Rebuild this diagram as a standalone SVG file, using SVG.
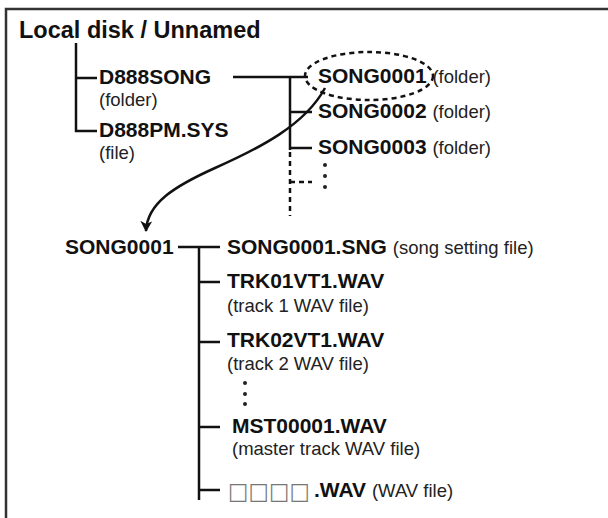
<svg xmlns="http://www.w3.org/2000/svg" width="608" height="518" viewBox="0 0 608 518">
<defs>
<style>
.b{font-family:"Liberation Sans",Arial,sans-serif;font-weight:bold;font-size:21px;fill:#111}
.r{font-family:"Liberation Sans",Arial,sans-serif;font-weight:normal;font-size:18.5px;fill:#222}
.ln{fill:none;stroke:#111;stroke-width:2.5}
.dot{fill:#222}
.sq{font-family:"DejaVu Sans",sans-serif;font-weight:normal;font-size:23px;fill:#777}
</style>
<marker id="ah" viewBox="0 0 12 12" refX="10" refY="6" markerWidth="12" markerHeight="12" markerUnits="userSpaceOnUse" orient="auto">
<path d="M0,0 L11,6 L0,12 L3,6 Z" fill="#111"/>
</marker>
</defs>
<rect width="608" height="518" fill="#fff"/>
<path d="M6,518 V9 H608" fill="none" stroke="#333" stroke-width="2.5"/>
<g id="connectors">
<path class="ln" d="M76,43 V131 H97 M76,78 H97"/>
<path class="ln" d="M233,77 H308 M290,77 V150 M290,112 H312 M290,148 H312"/>
<path class="ln" d="M290,152 V216 M290,182 H312" stroke-dasharray="5,4"/>
<path class="ln" d="M178,247 H220 M199,247 V500 M199,282 H220 M199,342 H220 M199,427 H220 M199,490 H220"/>
<ellipse cx="369" cy="76" rx="64" ry="24" fill="none" stroke="#111" stroke-width="2.5" stroke-dasharray="5,4"/>
<path class="ln" d="M325,88 C305,125 260,148 215,168 C175,186 147,203 146,231" marker-end="url(#ah)"/>
<circle class="dot" cx="325" cy="165" r="2"/>
<circle class="dot" cx="325" cy="176" r="2"/>
<circle class="dot" cx="325" cy="187" r="2"/>
<circle class="dot" cx="245" cy="383" r="2"/>
<circle class="dot" cx="245" cy="394" r="2"/>
<circle class="dot" cx="245" cy="404" r="2"/>
</g>
<g id="root"><text class="b" x="19" y="38" style="font-size:23.5px">Local disk / Unnamed</text></g>
<g id="d888song"><text class="b" x="99" y="84">D888SONG</text><text class="r" x="99" y="106">(folder)</text></g>
<g id="d888pm"><text class="b" x="99" y="137">D888PM.SYS</text><text class="r" x="99" y="159">(file)</text></g>
<g id="song0001"><text class="b" x="318" y="83">SONG0001 <tspan class="r">(folder)</tspan></text></g>
<g id="song0002"><text class="b" x="318" y="118">SONG0002 <tspan class="r">(folder)</tspan></text></g>
<g id="song0003"><text class="b" x="318" y="154">SONG0003 <tspan class="r">(folder)</tspan></text></g>
<g id="song0001-b"><text class="b" x="65" y="254">SONG0001</text></g>
<g id="sng"><text class="b" x="227" y="254">SONG0001.SNG <tspan class="r">(song setting file)</tspan></text></g>
<g id="trk01"><text class="b" x="227" y="288">TRK01VT1.WAV</text><text class="r" x="227" y="312">(track 1 WAV file)</text></g>
<g id="trk02"><text class="b" x="227" y="347">TRK02VT1.WAV</text><text class="r" x="227" y="370">(track 2 WAV file)</text></g>
<g id="mst"><text class="b" x="232" y="433">MST00001.WAV</text><text class="r" x="232" y="455">(master track WAV file)</text></g>
<g id="wav"><text class="sq" x="228" y="499" textLength="82" lengthAdjust="spacingAndGlyphs">□□□□</text><text class="b" x="314" y="497">.WAV <tspan class="r">(WAV file)</tspan></text></g>
</svg>
